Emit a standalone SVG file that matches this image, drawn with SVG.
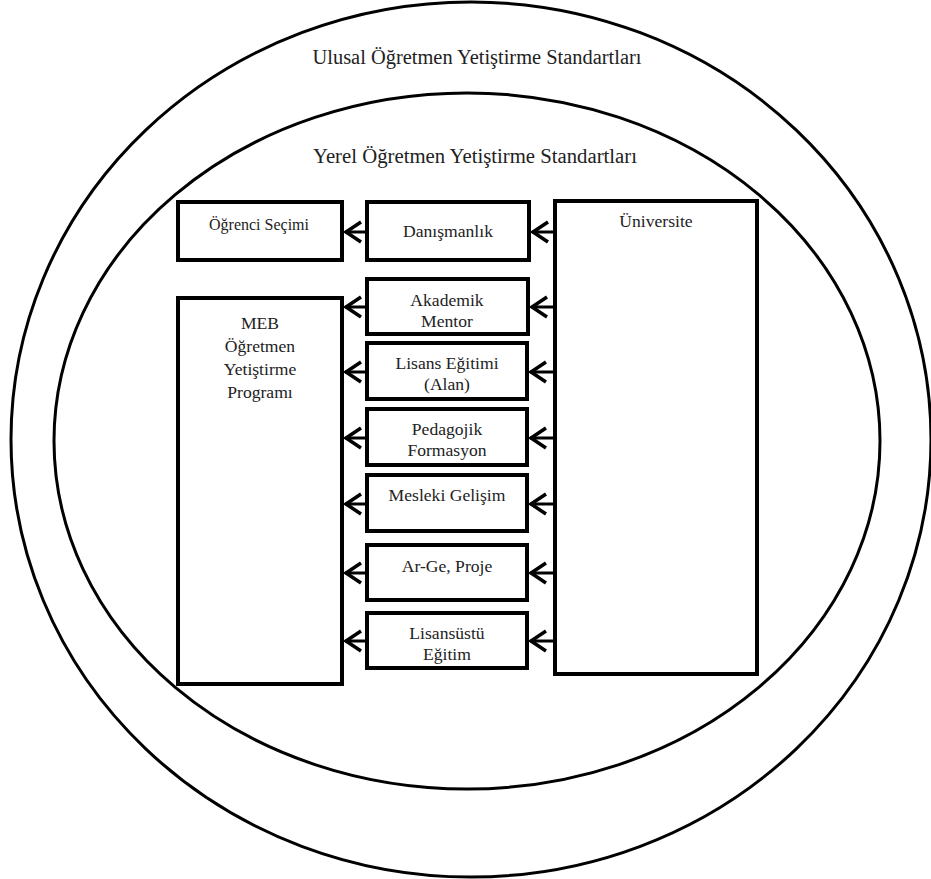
<svg xmlns="http://www.w3.org/2000/svg" width="931" height="879" viewBox="0 0 931 879">
<style>
.ring{fill:none;stroke:#000;stroke-width:3}
.box{fill:#fff;stroke:#000;stroke-width:4}
.t{font-family:"Liberation Serif","Times New Roman",serif;font-size:17.6px;fill:#222;text-anchor:middle}
.sm{font-size:16px}
.big{font-size:20px}
.c{fill:none;stroke:#000;stroke-width:3}
</style>
<defs>
<marker id="ah" viewBox="0 0 22 24" refX="19" refY="12" markerWidth="22" markerHeight="24" markerUnits="userSpaceOnUse" orient="auto">
<path d="M3,2 L18,12 L3,22" fill="none" stroke="#000" stroke-width="3.5" stroke-linejoin="miter"/>
</marker>
</defs>
<rect width="931" height="879" fill="#fff"/>
<g id="ulusal">
<ellipse class="ring" cx="471" cy="439.5" rx="460" ry="437.5"/>
<text class="t big" x="477" y="64" textLength="329" lengthAdjust="spacingAndGlyphs">Ulusal Öğretmen Yetiştirme Standartları</text>
</g>
<g id="yerel">
<ellipse class="ring" cx="467" cy="441" rx="413" ry="348"/>
<text class="t big" x="475" y="163" textLength="324" lengthAdjust="spacingAndGlyphs">Yerel Öğretmen Yetiştirme Standartları</text>
</g>
<g id="ogrenci">
<rect class="box" x="178" y="202" width="164" height="58"/>
<text class="t sm" x="259" y="230">Öğrenci Seçimi</text>
</g>
<g id="danismanlik">
<rect class="box" x="367" y="202" width="162" height="58"/>
<text class="t" x="448" y="237">Danışmanlık</text>
</g>
<g id="universite">
<rect class="box" x="555" y="201" width="202" height="473"/>
<text class="t" x="656" y="227">Üniversite</text>
</g>
<g id="meb">
<rect class="box" x="178" y="298" width="164" height="386"/>
<text class="t" x="260" y="329">MEB</text>
<text class="t" x="260" y="352">Öğretmen</text>
<text class="t" x="260" y="375">Yetiştirme</text>
<text class="t" x="260" y="398">Programı</text>
</g>
<g id="akademik">
<rect class="box" x="367" y="279" width="161" height="55"/>
<text class="t" x="447" y="306">Akademik</text>
<text class="t" x="447" y="327">Mentor</text>
</g>
<g id="lisans">
<rect class="box" x="367" y="343" width="160" height="56"/>
<text class="t" x="447" y="369">Lisans Eğitimi</text>
<text class="t" x="447" y="390">(Alan)</text>
</g>
<g id="pedagojik">
<rect class="box" x="367" y="409" width="160" height="56"/>
<text class="t" x="447" y="435">Pedagojik</text>
<text class="t" x="447" y="456">Formasyon</text>
</g>
<g id="mesleki">
<rect class="box" x="367" y="475" width="160" height="56"/>
<text class="t" x="447" y="501">Mesleki Gelişim</text>
</g>
<g id="arge">
<rect class="box" x="367" y="545" width="160" height="55"/>
<text class="t" x="447" y="572">Ar-Ge, Proje</text>
</g>
<g id="lisansustu">
<rect class="box" x="367" y="613" width="160" height="55"/>
<text class="t" x="447" y="639">Lisansüstü</text>
<text class="t" x="447" y="660">Eğitim</text>
</g>
<g id="connectors">
<line class="c" x1="555" y1="232" x2="532" y2="232" marker-end="url(#ah)"/>
<line class="c" x1="555" y1="307" x2="531" y2="307" marker-end="url(#ah)"/>
<line class="c" x1="555" y1="372" x2="530" y2="372" marker-end="url(#ah)"/>
<line class="c" x1="555" y1="438" x2="530" y2="438" marker-end="url(#ah)"/>
<line class="c" x1="555" y1="504" x2="530" y2="504" marker-end="url(#ah)"/>
<line class="c" x1="555" y1="573" x2="530" y2="573" marker-end="url(#ah)"/>
<line class="c" x1="555" y1="641" x2="530" y2="641" marker-end="url(#ah)"/>
<line class="c" x1="367" y1="232" x2="345" y2="232" marker-end="url(#ah)"/>
<line class="c" x1="367" y1="307" x2="345" y2="307" marker-end="url(#ah)"/>
<line class="c" x1="367" y1="372" x2="345" y2="372" marker-end="url(#ah)"/>
<line class="c" x1="367" y1="438" x2="345" y2="438" marker-end="url(#ah)"/>
<line class="c" x1="367" y1="504" x2="345" y2="504" marker-end="url(#ah)"/>
<line class="c" x1="367" y1="573" x2="345" y2="573" marker-end="url(#ah)"/>
<line class="c" x1="367" y1="641" x2="345" y2="641" marker-end="url(#ah)"/>
</g>
</svg>
